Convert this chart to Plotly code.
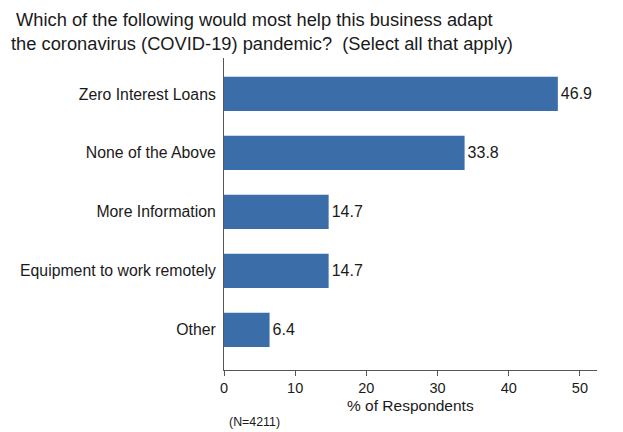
import plotly.graph_objects as go

categories = ["Zero Interest Loans", "None of the Above", "More Information",
              "Equipment to work remotely", "Other"]
values = [46.9, 33.8, 14.7, 14.7, 6.4]
value_labels = ["46.9", "33.8", "14.7", "14.7", "6.4"]
x_ticks = [0, 10, 20, 30, 40, 50]

# page body has an 8px margin, so figure coordinates = screen - 8
OFF = 8
W, H = 615, 424
L, T = 224 - OFF, 58 - OFF
PW, PH = 597 - 224, 370 - 58
R, B = W - L - PW, H - T - PH

fig = go.Figure(go.Bar(
    y=categories, x=values, orientation="h",
    marker=dict(color="#3b6ea8", line=dict(width=0)),
    width=0.58,
    text=value_labels, textposition="outside",
    textfont=dict(family="Arial, Liberation Sans", size=16, color="#1a1a1a"),
    cliponaxis=False,
))

fig.update_layout(
    width=W, height=H,
    margin=dict(l=L, r=R, t=T, b=B, autoexpand=False),
    paper_bgcolor="white", plot_bgcolor="white",
    font=dict(family="Arial, Liberation Sans", color="#1a1a1a"),
    showlegend=False,
)
fig.update_xaxes(
    range=[0, 52.4], tickvals=x_ticks, ticktext=[str(t) for t in x_ticks],
    showgrid=False, zeroline=False, automargin=False,
    showline=True, linecolor="#555555", linewidth=1,
    ticks="outside", ticklen=5, tickcolor="#555555",
    tickfont=dict(size=14.5, color="#1a1a1a"),
)
fig.update_yaxes(
    categoryorder="array", categoryarray=categories,
    range=[4.68, -0.61], automargin=False,
    showgrid=False, zeroline=False,
    showline=True, linecolor="#555555", linewidth=1,
    ticks="", ticklabelstandoff=4,
    tickfont=dict(size=15.8, color="#1a1a1a"),
)
fig.add_annotation(
    text="\u00a0Which of the following would most help this business adapt<br>the coronavirus (COVID-19) pandemic?  (Select all that apply)",
    xref="paper", yref="paper", x=(9 - 224) / PW, y=1,
    xanchor="left", yanchor="bottom", yshift=2,
    showarrow=False, align="left",
    font=dict(size=18.3, color="#1a1a1a"),
)
fig.add_annotation(
    text="% of Respondents",
    xref="paper", yref="paper", x=0.5, y=0,
    xanchor="center", yanchor="middle", yshift=-(405 - 370),
    showarrow=False, font=dict(size=15.5, color="#1a1a1a"),
)
fig.add_annotation(
    text="(N=4211)", xref="paper", yref="paper", x=(227 - 224) / PW, y=0,
    xanchor="left", yanchor="middle", yshift=-(422 - 370),
    showarrow=False, font=dict(size=12.4, color="#1a1a1a"),
)

fig.write_html("out.html")
